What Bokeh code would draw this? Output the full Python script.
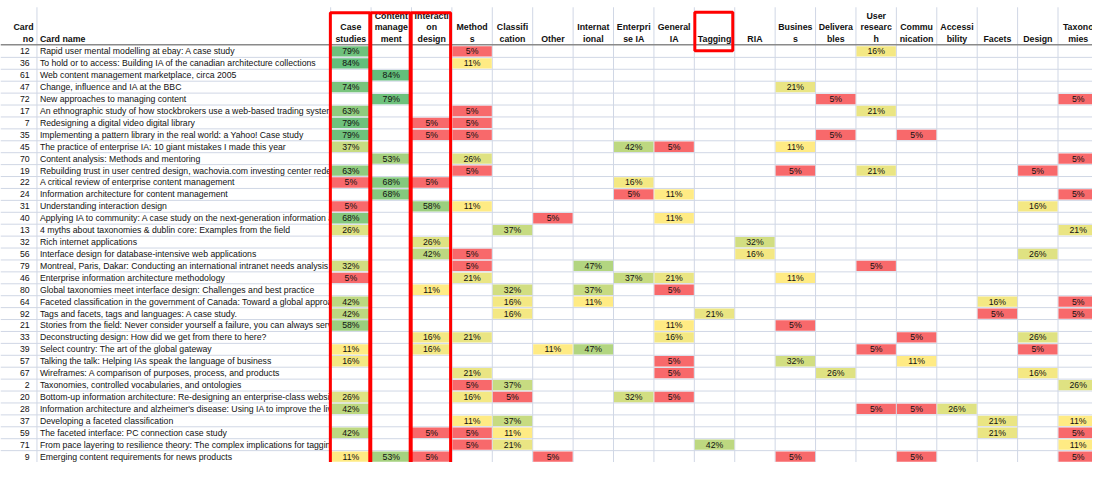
from bokeh.plotting import figure
from bokeh.models import Range1d, ColumnDataSource
from bokeh.core.properties import value
from bokeh.embed import file_html
from bokeh.resources import INLINE

# ---------------- data ----------------
card_no = [12, 36, 61, 47, 72, 17, 7, 35, 45, 70, 19, 22, 24, 31, 40, 13, 32, 56, 79,
           46, 80, 64, 92, 21, 33, 39, 57, 67, 2, 20, 28, 37, 59, 71, 9]

card_names = [
    "Rapid user mental modelling at ebay: A case study",
    "To hold or to access: Building IA of the canadian architecture collections",
    "Web content management marketplace, circa 2005",
    "Change, influence and IA at the BBC",
    "New approaches to managing content",
    "An ethnographic study of how stockbrokers use a web-based trading system",
    "Redesigning a digital video digital library",
    "Implementing a pattern library in the real world: a Yahoo! Case study",
    "The practice of enterprise IA: 10 giant mistakes I made this year",
    "Content analysis: Methods and mentoring",
    "Rebuilding trust in user centred design, wachovia.com investing center redesign",
    "A critical review of enterprise content management",
    "Information architecture for content management",
    "Understanding interaction design",
    "Applying IA to community: A case study on the next-generation information architecture",
    "4 myths about taxonomies & dublin core: Examples from the field",
    "Rich internet applications",
    "Interface design for database-intensive web applications",
    "Montreal, Paris, Dakar: Conducting an international intranet needs analysis",
    "Enterprise information architecture methodology",
    "Global taxonomies meet interface design: Challenges and best practice",
    "Faceted classification in the government of Canada: Toward a global approach",
    "Tags and facets, tags and languages: A case study.",
    "Stories from the field: Never consider yourself a failure, you can always serve",
    "Deconstructing design: How did we get from there to here?",
    "Select country: The art of the global gateway",
    "Talking the talk: Helping IAs speak the language of business",
    "Wireframes: A comparison of purposes, process, and products",
    "Taxonomies, controlled vocabularies, and ontologies",
    "Bottom-up information architecture: Re-designing an enterprise-class website",
    "Information architecture and alzheimer's disease: Using IA to improve the lives",
    "Developing a faceted classification",
    "The faceted interface: PC connection case study",
    "From pace layering to resilience theory: The complex implications for tagging",
    "Emerging content requirements for news products",
]

categories = ["Case studies", "Content management", "Interaction design", "Methods",
              "Classification", "Other", "International", "Enterprise IA", "General IA",
              "Tagging", "RIA", "Business", "Deliverables", "User research",
              "Communication", "Accessibility", "Facets", "Design", "Taxonomies"]

header_lines = [["Case", "studies"], ["Content", "manage", "ment"], ["Interacti", "on", "design"],
                ["Method", "s"], ["Classifi", "cation"], ["Other"], ["Internat", "ional"],
                ["Enterpri", "se IA"], ["General", "IA"], ["Tagging"], ["RIA"],
                ["Busines", "s"], ["Delivera", "bles"], ["User", "researc", "h"],
                ["Commu", "nication"], ["Accessi", "bility"], ["Facets"], ["Design"],
                ["Taxono", "mies"]]

# values (%) keyed by card number
case_studies = {12: 79, 36: 84, 47: 74, 17: 63, 7: 79, 35: 79, 45: 37, 19: 63, 22: 5, 31: 5,
                40: 68, 13: 26, 79: 32, 46: 5, 64: 42, 92: 42, 21: 58, 39: 11, 57: 16,
                20: 26, 28: 42, 59: 42, 9: 11}
content_management = {61: 84, 72: 79, 70: 53, 22: 68, 24: 68, 9: 53}
interaction_design = {7: 5, 35: 5, 22: 5, 31: 58, 32: 26, 56: 42, 80: 11, 33: 16, 39: 16,
                      59: 5, 9: 5}
methods = {12: 5, 36: 11, 17: 5, 7: 5, 35: 5, 70: 26, 19: 5, 31: 11, 56: 5, 79: 5, 46: 21,
           33: 21, 67: 21, 2: 5, 20: 16, 37: 11, 59: 5, 71: 5}
classification = {13: 37, 80: 32, 64: 16, 92: 16, 2: 37, 20: 5, 37: 37, 59: 11, 71: 21}
other = {40: 5, 39: 11, 9: 5}
international = {79: 47, 80: 37, 64: 11, 39: 47}
enterprise_ia = {45: 42, 22: 16, 24: 5, 46: 37, 20: 32}
general_ia = {45: 5, 24: 11, 40: 11, 46: 21, 80: 5, 21: 11, 33: 16, 57: 5, 67: 5, 20: 5}
tagging = {92: 21, 71: 42}
ria = {32: 32, 56: 16}
business = {47: 21, 45: 11, 19: 5, 46: 11, 21: 5, 57: 32, 9: 5}
deliverables = {72: 5, 35: 5, 67: 26}
user_research = {12: 16, 17: 21, 19: 21, 79: 5, 39: 5, 28: 5}
communication = {35: 5, 33: 5, 57: 11, 28: 5, 9: 5}
accessibility = {28: 26}
facets = {64: 16, 92: 5, 37: 21, 59: 21}
design = {19: 5, 31: 16, 56: 26, 33: 26, 39: 5, 67: 16}
taxonomies = {72: 5, 70: 5, 24: 5, 13: 21, 64: 5, 92: 5, 2: 26, 37: 11, 59: 5, 71: 11, 9: 5}

series = [case_studies, content_management, interaction_design, methods, classification,
          other, international, enterprise_ia, general_ia, tagging, ria, business,
          deliverables, user_research, communication, accessibility, facets, design, taxonomies]

highlighted = ["Case studies", "Content management", "Interaction design"]
highlighted_header_only = ["Tagging"]

# ---------------- layout / style ----------------
W_REF, H_REF = 1108, 478
NO_RIGHT = 37
NAME_LEFT = 335
COL_W = 41
HEAD_TOP = 7
HEAD_BOTTOM = 46.5
ROW_H = 12.33
FONT = "Liberation Sans"
FS = "8.7px"
FS_H = "8.8px"
TXT = "#111111"
GRID = "#D0D7E5"

RED = (248, 105, 107)
YEL = (255, 235, 132)
GRN = (99, 190, 123)
MID = 11


def mix(a, b, t):
    return "#%02x%02x%02x" % tuple(int(round(a[i] + (b[i] - a[i]) * t)) for i in range(3))


all_vals = [v for s in series for v in s.values()]
lo, hi = min(all_vals), max(all_vals)


def color_for(v):
    if v <= MID:
        return mix(RED, YEL, (v - lo) / (MID - lo))
    return mix(YEL, GRN, (v - MID) / (hi - MID))


def row_center(i):
    return HEAD_BOTTOM + (i + 0.5) * ROW_H


def col_center(j):
    return NAME_LEFT + (j + 0.5) * COL_W


p = figure(width=1092, height=462, x_range=Range1d(0, W_REF), y_range=Range1d(H_REF, 0),
           output_backend="svg", toolbar_location=None, min_border=0,
           x_axis_location=None, y_axis_location=None)
p.grid.visible = False
p.outline_line_color = None
p.background_fill_color = "white"
p.border_fill_color = "white"

nrows = len(card_no)
ys = [row_center(i) for i in range(nrows)]

# card names (overflow is covered by the table area below)
p.text(x=[NO_RIGHT + 3] * nrows, y=ys, text=card_names, text_font=value(FONT),
       text_font_size=value(FS), text_color=TXT, text_baseline="middle", text_align="left")
p.text(x=[NO_RIGHT - 7.5] * nrows, y=ys, text=[str(n) for n in card_no], text_font=value(FONT),
       text_font_size=value(FS), text_color=TXT, text_baseline="middle", text_align="right")

# cover name overflow
p.quad(left=[NAME_LEFT], right=[W_REF + 20], top=[HEAD_BOTTOM], bottom=[H_REF + 20],
       fill_color="white", line_color=None)

# grid lines
ncols = len(categories)
vx = [NO_RIGHT] + [NAME_LEFT + k * COL_W for k in range(ncols + 1)]
p.segment(x0=vx, y0=[HEAD_TOP] * len(vx), x1=vx, y1=[H_REF + 10] * len(vx),
          line_color=GRID, line_width=1)
hy = [HEAD_BOTTOM + k * ROW_H for k in range(1, nrows + 1)]
p.segment(x0=[0] * len(hy), y0=hy, x1=[W_REF + 10] * len(hy), y1=hy,
          line_color=GRID, line_width=1)

# cells
cx, cy, cc, cl = [], [], [], []
for j, s in enumerate(series):
    for i, n in enumerate(card_no):
        if n in s:
            v = s[n]
            cx.append(col_center(j))
            cy.append(row_center(i))
            cc.append(color_for(v))
            cl.append(f"{v}%")
src = ColumnDataSource(dict(x=cx, y=cy, c=cc, t=cl))
p.rect(x="x", y="y", width=COL_W - 1, height=ROW_H - 1.6, source=src,
       fill_color="c", line_color=None)
p.text(x="x", y="y", text="t", source=src, text_font=value(FONT), text_font_size=value(FS),
       text_color=TXT, text_baseline="middle", text_align="center")

# header bottom line
p.segment(x0=[0], y0=[HEAD_BOTTOM - 0.7], x1=[W_REF + 10], y1=[HEAD_BOTTOM - 0.7],
          line_color="#8a8a8a", line_width=1.6)

# header texts
hx, hyy, ht = [], [], []
for j, lines in enumerate(header_lines):
    n = len(lines)
    for k, ln in enumerate(lines):
        hx.append(col_center(j))
        hyy.append(39.8 - (n - 1 - k) * 12.1)
        ht.append(ln)
p.text(x=hx, y=hyy, text=ht, text_font=value(FONT), text_font_size=value(FS_H),
       text_font_style="bold", text_color=TXT, text_baseline="middle", text_align="center")
p.text(x=[NO_RIGHT - 3.5, NO_RIGHT - 3.5], y=[27.7, 39.8], text=["Card", "no"],
       text_font=value(FONT), text_font_size=value(FS_H), text_font_style="bold",
       text_color=TXT, text_baseline="middle", text_align="right")
p.text(x=[NO_RIGHT + 3], y=[39.8], text=["Card name"], text_font=value(FONT),
       text_font_size=value(FS_H), text_font_style="bold", text_color=TXT,
       text_baseline="middle", text_align="left")

# red highlight boxes
bl, br, bt, bb = [], [], [], []
for name in highlighted:
    j = categories.index(name)
    bl.append(NAME_LEFT + j * COL_W - 0.3)
    br.append(NAME_LEFT + (j + 1) * COL_W - 1.3)
    bt.append(12.8)
    bb.append(H_REF + 20)
for name in highlighted_header_only:
    j = categories.index(name)
    bl.append(NAME_LEFT + j * COL_W + 0.5)
    br.append(NAME_LEFT + (j + 1) * COL_W - 2.0)
    bt.append(12.2)
    bb.append(HEAD_BOTTOM + 5.5)
p.quad(left=bl, right=br, top=bt, bottom=bb, fill_alpha=0, line_color="#FF0000", line_width=3)

open("out.html", "w").write(file_html(p, INLINE))
